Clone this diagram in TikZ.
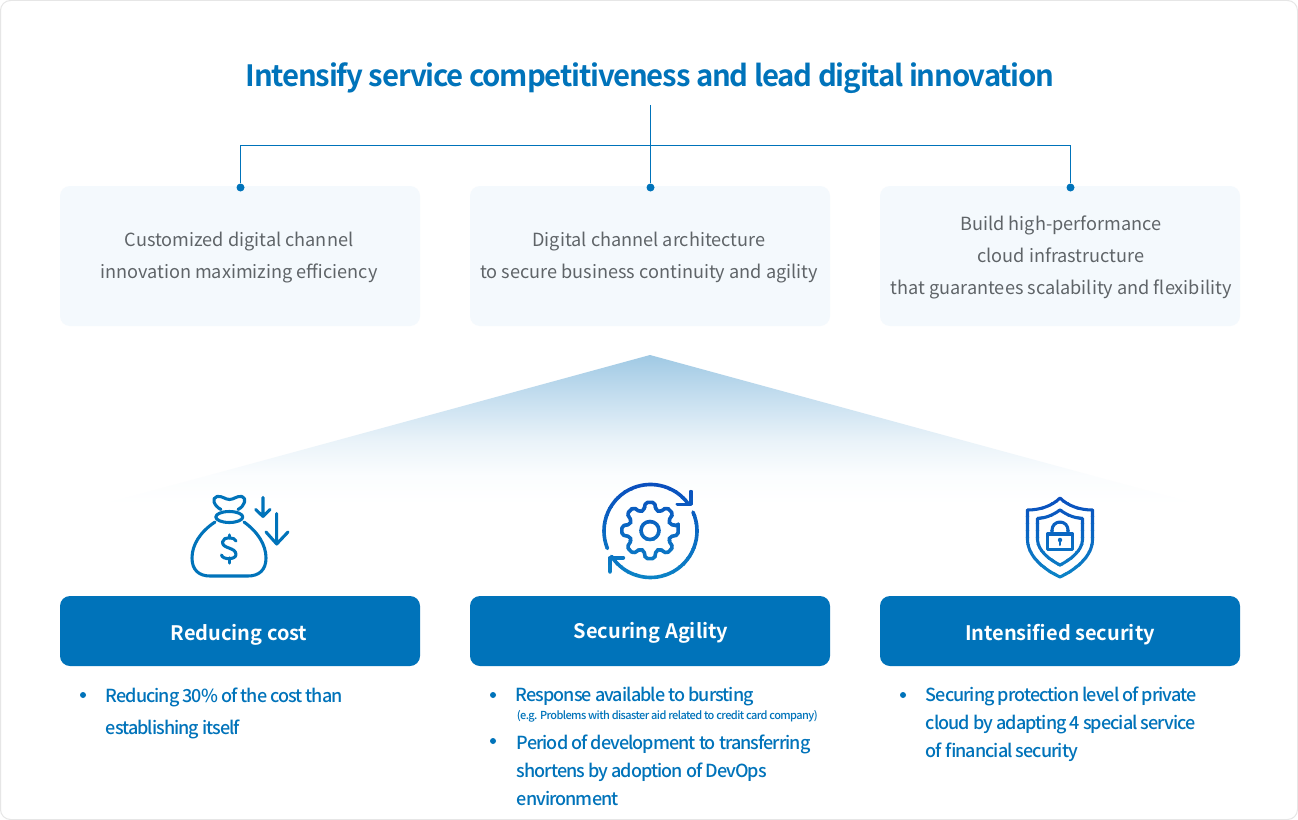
\documentclass[tikz,border=0pt]{standalone}
\usepackage{fontspec}
\setmainfont{Noto Sans CJK KR}
\newfontfamily\medf[LetterSpace=-5.3]{Noto Sans CJK KR Medium}
\newfontfamily\regf{Noto Sans CJK KR}
\newfontfamily\boldf{Noto Sans CJK KR Bold}
\newfontfamily\titlef[LetterSpace=-4.05]{Noto Sans CJK KR Bold}
\definecolor{brand}{HTML}{0073BA}
\definecolor{cardbg}{HTML}{F4F9FD}
\definecolor{greytxt}{HTML}{5F6468}
\definecolor{framec}{HTML}{E6E6E6}
\definecolor{icontop}{HTML}{0A4FBE}
\definecolor{iconbot}{HTML}{0B82C6}
\definecolor{fanA}{HTML}{A0C9E4}
\definecolor{fanB}{HTML}{C8E0F0}
\definecolor{fanC}{HTML}{EAF3F9}
\definecolor{fanD}{HTML}{FBFDFE}
\pgfdeclareverticalshading{fanshade}{100bp}{
  color(0bp)=(white);
  color(25bp)=(white);
  color(34.7bp)=(fanD);
  color(46.3bp)=(fanC);
  color(60bp)=(fanB);
  color(75bp)=(fanA);
  color(100bp)=(fanA)}
\newcommand{\gradicon}[3]{%
  \foreach \k in {0,...,11}{%
    \pgfmathsetmacro{\yA}{#1+(#2-#1)*\k/12}%
    \pgfmathsetmacro{\yB}{#1+(#2-#1)*(\k+1)/12+0.3}%
    \pgfmathtruncatemacro{\pc}{100*\k/11}%
    \begin{scope}
      \clip (0,\yA) rectangle (1298,\yB);
      \begin{scope}[draw=iconbot!\pc!icontop, fill=iconbot!\pc!icontop]
      #3
      \end{scope}
    \end{scope}
  }%
}
\tikzset{
  x=0.75pt,y=-0.75pt,
  card/.style={fill=cardbg,rounded corners=7.5pt},
  head/.style={fill=brand,rounded corners=7.5pt},
  cardbox/.style={minimum width=270pt,minimum height=105pt,inner sep=0pt,card},
  headbox/.style={minimum width=270pt,minimum height=52.5pt,inner sep=0pt,head},
  cardtext/.style={text=greytxt,align=center,font=\regf\fontsize{13.6pt}{24pt}\selectfont},
  headtext/.style={text=white,font=\boldf\fontsize{15pt}{20pt}\selectfont},
  itemtext/.style={text=brand,align=left,anchor=base west,inner sep=0pt,font=\medf\fontsize{13.5pt}{21pt}\selectfont},
  itemwide/.style={text=brand,align=left,anchor=base west,inner sep=0pt,font=\medf\fontsize{13.5pt}{24pt}\selectfont},
  smalltext/.style={text=brand,anchor=base west,inner sep=0pt,font=\medf\fontsize{8.25pt}{10pt}\selectfont},
  bulletdot/.style={circle,fill=brand,inner sep=0pt,minimum size=4.5pt},
  enddot/.style={circle,fill=brand,inner sep=0pt,minimum size=6pt},
  wire/.style={draw=brand,line width=0.75pt},
  ico/.style={line width=2.3pt,line cap=round,line join=round},
  icob/.style={line width=2.7pt,line cap=round,line join=round},
}
\begin{document}
\begin{tikzpicture}
\useasboundingbox (0,0) rectangle (1298,820);
\draw[framec,line width=0.75pt,fill=white,rounded corners=7.5pt] (0.5,0.5) rectangle (1297.5,819.5);
% gradient triangle
\shade[shading=fanshade] (650,355) -- (100,505) -- (1200,505) -- cycle;
% title
\node[text=brand,font=\titlef\fontsize{22pt}{28pt}\selectfont] (title) at (650,78) {Intensify service competitiveness and lead digital innovation};
\coordinate (trunk) at (650.5,105);
\coordinate (hub) at (650.5,145.5);
% cards
\node[cardbox] (c1) at (240,256) {};
\node[cardbox] (c2) at (650,256) {};
\node[cardbox] (c3) at (1060,256) {};
\node[enddot] (d1) at (240.5,187.5) {};
\node[enddot] (d2) at (650.5,187.5) {};
\node[enddot] (d3) at (1070.5,187.5) {};
\draw[wire] (trunk) -- (d2);
\draw[wire] (d1) |- (hub) -| (d3);
\node[cardtext] (t1) at (239,258) {Customized digital channel\\innovation maximizing efficiency};
\node[cardtext] (t2) at (649,258) {Digital channel architecture\\to secure business continuity and agility};
\node[cardtext] (t3) at (1061,257) {Build high-performance\\cloud infrastructure\\that guarantees scalability and flexibility};
% headers
\node[headbox] (h1) at (240,631) {};
\node[headbox] (h2) at (650,631) {};
\node[headbox] (h3) at (1060,631) {};
\node[headtext] at (239,635) {Reducing cost};
\node[headtext] at (651,633) {Securing Agility};
\node[headtext] at (1060,635) {Intensified security};
% bullets
\node[bulletdot] (b1) at (83,695) {};
\node[itemwide] at (105.5,734.5) {Reducing 30\% of the cost than\\establishing itself};
\node[bulletdot] (b2) at (493,695) {};
\node[itemtext] at (515.5,701.5) {Response available to bursting};
\node[smalltext] at (516.5,719.5) {(e.g. Problems with disaster aid related to credit card company)};
\node[bulletdot] (b3) at (493,741) {};
\node[itemtext] at (516.5,805.5) {Period of development to transferring\\shortens by adoption of DevOps\\environment};
\node[bulletdot] (b4) at (903,695) {};
\node[itemtext] at (925.5,757.5) {Securing protection level of private\\cloud by adapting 4 special service\\of financial security};
% money bag
\begin{scope}[ico,draw=brand]
\draw (215,522) .. controls (200,532) and (192,545) .. (192,558) .. controls (192,570) and (199,576) .. (210,576) -- (248,576) .. controls (259,576) and (266,570) .. (266,558) .. controls (266,545) and (258,532) .. (244,522);
\draw (229.3,517) ellipse [x radius=13.5,y radius=5.5];
\draw (221,509.5) .. controls (214,506) and (211,498) .. (217,496.5) .. controls (222,495.5) and (225,499.5) .. (229.5,499.5) .. controls (234,499.5) and (237,495.5) .. (242,496.5) .. controls (247,498) and (245,506) .. (238,509.5);
\draw (236,541) .. controls (235,537) and (223,536) .. (222.5,542) .. controls (222,549) and (236,547) .. (236,554.5) .. controls (236,560) and (222.5,560) .. (221.5,555);
\draw (229.3,535) -- (229.3,538) (229.3,558) -- (229.3,563);
\draw (263,497.5) -- (263,516.5) (255.7,509.5) -- (263,516.5) -- (270,509.5);
\draw (276.7,513.5) -- (276.7,544) (266,532) -- (276.7,544) -- (288,532);
\end{scope}
% gear
\gradicon{482}{582}{
  \begin{scope}[icob]
  \draw (650,530.5) circle [radius=9];
  \draw[rounded corners=1.5pt] ({650+28.5*cos(-9)},{530.5+28.5*sin(-9)})
   \foreach \a in {0,45,...,315}{
     -- ({650+28.5*cos(\a+9)},{530.5+28.5*sin(\a+9)})
     -- ({650+21*cos(\a+17)},{530.5+21*sin(\a+17)})
     -- ({650+21*cos(\a+28)},{530.5+21*sin(\a+28)})
     -- ({650+28.5*cos(\a+36)},{530.5+28.5*sin(\a+36)})
   } -- cycle;
  \draw ([shift={(650.5,531)}]158:46.5) arc[start angle=158,end angle=325,radius=46.5];
  \draw ([shift={(650.5,531)}]-24:46.5) arc[start angle=-24,end angle=147,radius=46.5];
  \draw (677.3,504.3) -- (691,504.3) -- (691,491.7);
  \draw (610,571.7) -- (610,557.7) -- (623.3,557.7);
  \end{scope}
}
% shield
\gradicon{495}{580}{
  \begin{scope}[ico]
  \draw (1060,498) .. controls (1052,506) and (1040,510) .. (1027.5,510) -- (1027.5,540) .. controls (1028,557) and (1045,570) .. (1060,577) .. controls (1075,570) and (1092,557) .. (1092.5,540) -- (1092.5,510) .. controls (1080,510) and (1068,506) .. (1060,498) -- cycle;
  \draw (1060,510) .. controls (1053,515) and (1046,518) .. (1037.5,518.5) -- (1037.5,540) .. controls (1038,551) and (1050,560) .. (1060,565) .. controls (1070,560) and (1082,551) .. (1082.5,540) -- (1082.5,518.5) .. controls (1074,518) and (1067,515) .. (1060,510) -- cycle;
  \draw (1047.5,534) rectangle (1072.5,549.5);
  \draw (1052,534) -- (1052,530) arc[start angle=180,end angle=360,radius=8] -- (1068,534);
  \fill (1060,540) circle [radius=2.2];
  \draw[line width=1.5pt] (1060,540) -- (1060,545);
  \end{scope}
}
\end{tikzpicture}
\end{document}
